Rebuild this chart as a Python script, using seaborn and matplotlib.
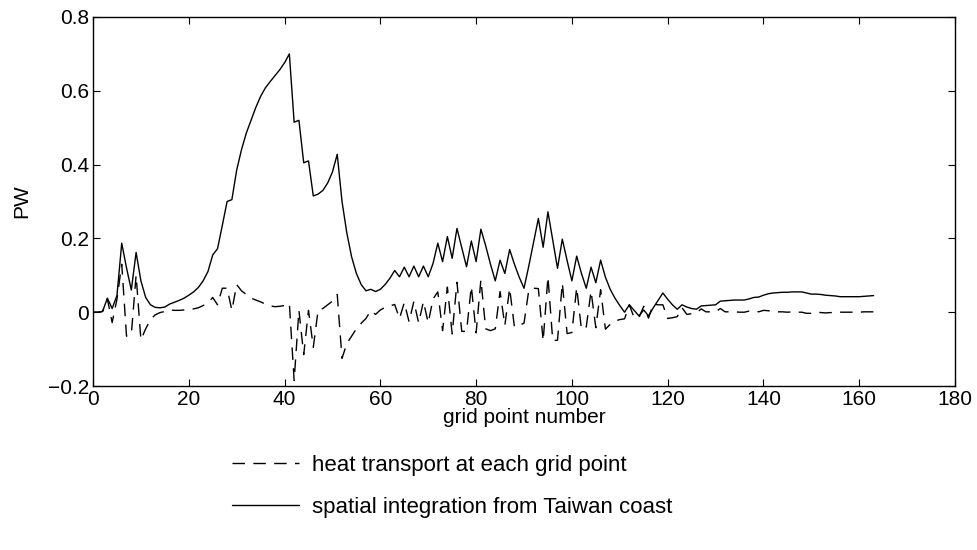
"""Heat transport per grid point and its spatial integration from the Taiwan coast."""

import numpy as np
import pandas as pd
import matplotlib
matplotlib.use("Agg")
import matplotlib.pyplot as plt
import seaborn as sns

# Spatial integration from Taiwan coast (PW), grid points 0..163
SOLID_PW = [
    0.0, 0.0, 0.002, 0.038, 0.010, 0.045, 0.187, 0.120, 0.060, 0.162,
    0.085, 0.040, 0.020, 0.013, 0.012, 0.014, 0.022, 0.027, 0.032, 0.038,
    0.046, 0.055, 0.067, 0.085, 0.110, 0.155, 0.172, 0.235, 0.300, 0.305,
    0.385, 0.440, 0.485, 0.520, 0.555, 0.585, 0.608, 0.625, 0.641, 0.657,
    0.676, 0.700, 0.515, 0.520, 0.405, 0.410, 0.315, 0.320, 0.330, 0.350,
    0.380, 0.428, 0.300, 0.215, 0.150, 0.105, 0.075, 0.058, 0.062, 0.056,
    0.062, 0.075, 0.092, 0.113, 0.096, 0.122, 0.096, 0.125, 0.096, 0.125,
    0.096, 0.132, 0.187, 0.137, 0.205, 0.146, 0.227, 0.175, 0.123, 0.193,
    0.137, 0.225, 0.180, 0.130, 0.085, 0.141, 0.105, 0.170, 0.130, 0.095,
    0.065, 0.125, 0.190, 0.254, 0.176, 0.272, 0.195, 0.119, 0.198, 0.140,
    0.085, 0.152, 0.105, 0.065, 0.122, 0.080, 0.141, 0.095, 0.062, 0.038,
    0.018, 0.000, 0.020, 0.005, -0.010, 0.006, -0.010, 0.012, 0.032, 0.052,
    0.035, 0.020, 0.008, 0.020, 0.014, 0.010, 0.008, 0.017, 0.018, 0.019,
    0.020, 0.030, 0.031, 0.032, 0.033, 0.033, 0.033, 0.036, 0.040, 0.041,
    0.046, 0.050, 0.052, 0.053, 0.054, 0.054, 0.055, 0.055, 0.055, 0.052,
    0.049, 0.049, 0.048, 0.046, 0.045, 0.044, 0.042, 0.042, 0.042, 0.042,
    0.042, 0.043, 0.044, 0.045,
]

# Heat transport at each grid point (PW), grid points 0..163
DASHED_PW = [
    0.0, 0.0, 0.002, 0.036, -0.028, 0.035, 0.130, -0.065, -0.060, 0.100,
    -0.075, -0.045, -0.020, -0.007, -0.001, 0.002, 0.006, 0.005, 0.005, 0.006,
    0.008, 0.009, 0.012, 0.018, 0.025, 0.040, 0.020, 0.065, 0.065, 0.005,
    0.075, 0.058, 0.048, 0.038, 0.033, 0.028, 0.022, 0.017, 0.015, 0.016,
    0.018, 0.024, -0.185, 0.005, -0.115, 0.005, -0.095, 0.005, 0.010, 0.020,
    0.030, 0.048, -0.125, -0.085, -0.065, -0.045, -0.030, -0.017, 0.004, -0.006,
    0.006, 0.013, 0.017, 0.021, -0.017, 0.026, -0.026, 0.029, -0.029, 0.029,
    -0.029, 0.036, 0.055, -0.050, 0.068, -0.059, 0.081, -0.052, -0.052, 0.070,
    -0.056, 0.088, -0.045, -0.050, -0.045, 0.056, -0.036, 0.065, -0.040, -0.035,
    -0.030, 0.060, 0.065, 0.064, -0.078, 0.096, -0.077, -0.076, 0.079, -0.058,
    -0.055, 0.067, -0.047, -0.040, 0.057, -0.042, 0.061, -0.046, -0.033, -0.024,
    -0.020, -0.018, 0.020, -0.015, -0.015, 0.016, -0.016, 0.022, 0.020, 0.020,
    -0.017, -0.015, -0.012, 0.012, -0.006, -0.004, -0.002, 0.009, 0.001, 0.001,
    0.001, 0.010, 0.001, 0.001, 0.001, 0.000, 0.000, 0.003, 0.004, 0.001,
    0.005, 0.004, 0.002, 0.001, 0.001, 0.000, 0.001, 0.000, 0.000, -0.003,
    -0.003, 0.000, -0.001, -0.002, -0.001, -0.002, 0.000, 0.000, 0.000, 0.000,
    0.000, 0.001, 0.001, 0.001,
]

X_TICKS = [0, 20, 40, 60, 80, 100, 120, 140, 160, 180]
Y_TICKS = [-0.2, 0, 0.2, 0.4, 0.6, 0.8]
Y_TICK_LABELS = ["\u22120.2", "0", "0.2", "0.4", "0.6", "0.8"]

LABEL_DASHED = "heat transport at each grid point"
LABEL_SOLID = "spatial integration from Taiwan coast"

FONT_SIZE = 15


def main() -> None:
    # 1. Styling
    sns.set_theme(style="ticks")
    plt.rcParams["font.family"] = ["Liberation Sans", "DejaVu Sans"]
    plt.rcParams["font.size"] = FONT_SIZE
    plt.rcParams["text.color"] = "black"
    plt.rcParams["axes.labelcolor"] = "black"
    plt.rcParams["xtick.direction"] = "in"
    plt.rcParams["ytick.direction"] = "in"

    df_dash = pd.DataFrame({"grid": np.arange(len(DASHED_PW)), "pw": DASHED_PW})
    df_solid = pd.DataFrame({"grid": np.arange(len(SOLID_PW)), "pw": SOLID_PW})

    # 2. Figure
    fig = plt.figure(figsize=(9.77, 5.5), dpi=100)
    ax = fig.add_axes([93 / 977, 1 - 386 / 550, (955 - 93) / 977, (386 - 17) / 550])

    sns.lineplot(data=df_dash, x="grid", y="pw", ax=ax, color="black",
                 linewidth=1.0, estimator=None, sort=False, label=LABEL_DASHED)
    sns.lineplot(data=df_solid, x="grid", y="pw", ax=ax, color="black",
                 linewidth=1.0, estimator=None, sort=False, label=LABEL_SOLID)
    ax.lines[0].set_dashes([9, 6])

    ax.set_xlim(0, 180)
    ax.set_ylim(-0.2, 0.8)
    ax.set_xticks(X_TICKS)
    ax.set_yticks(Y_TICKS)
    ax.set_yticklabels(Y_TICK_LABELS)
    ax.set_xlabel("grid point number", fontsize=FONT_SIZE, labelpad=-1)
    ax.set_ylabel("PW", fontsize=FONT_SIZE, labelpad=12)
    ax.tick_params(top=True, right=True, length=5, width=0.8, colors="black",
                   labelsize=FONT_SIZE, pad=3)
    for side in ax.spines.values():
        side.set_visible(True)
        side.set_color("black")
        side.set_linewidth(1.0)

    # 3. Legend below the axes
    handles, labels = ax.get_legend_handles_labels()
    ax.get_legend().remove()
    fig.legend(handles, labels, loc="upper left",
               bbox_to_anchor=(232 / 977, 1 - 455 / 550),
               frameon=False, handlelength=3.0, handletextpad=0.61,
               labelspacing=0.93, borderpad=0, borderaxespad=0,
               fontsize=16, labelcolor="black")

    fig.savefig("out.png", dpi=100)
    plt.close(fig)


if __name__ == "__main__":
    main()
